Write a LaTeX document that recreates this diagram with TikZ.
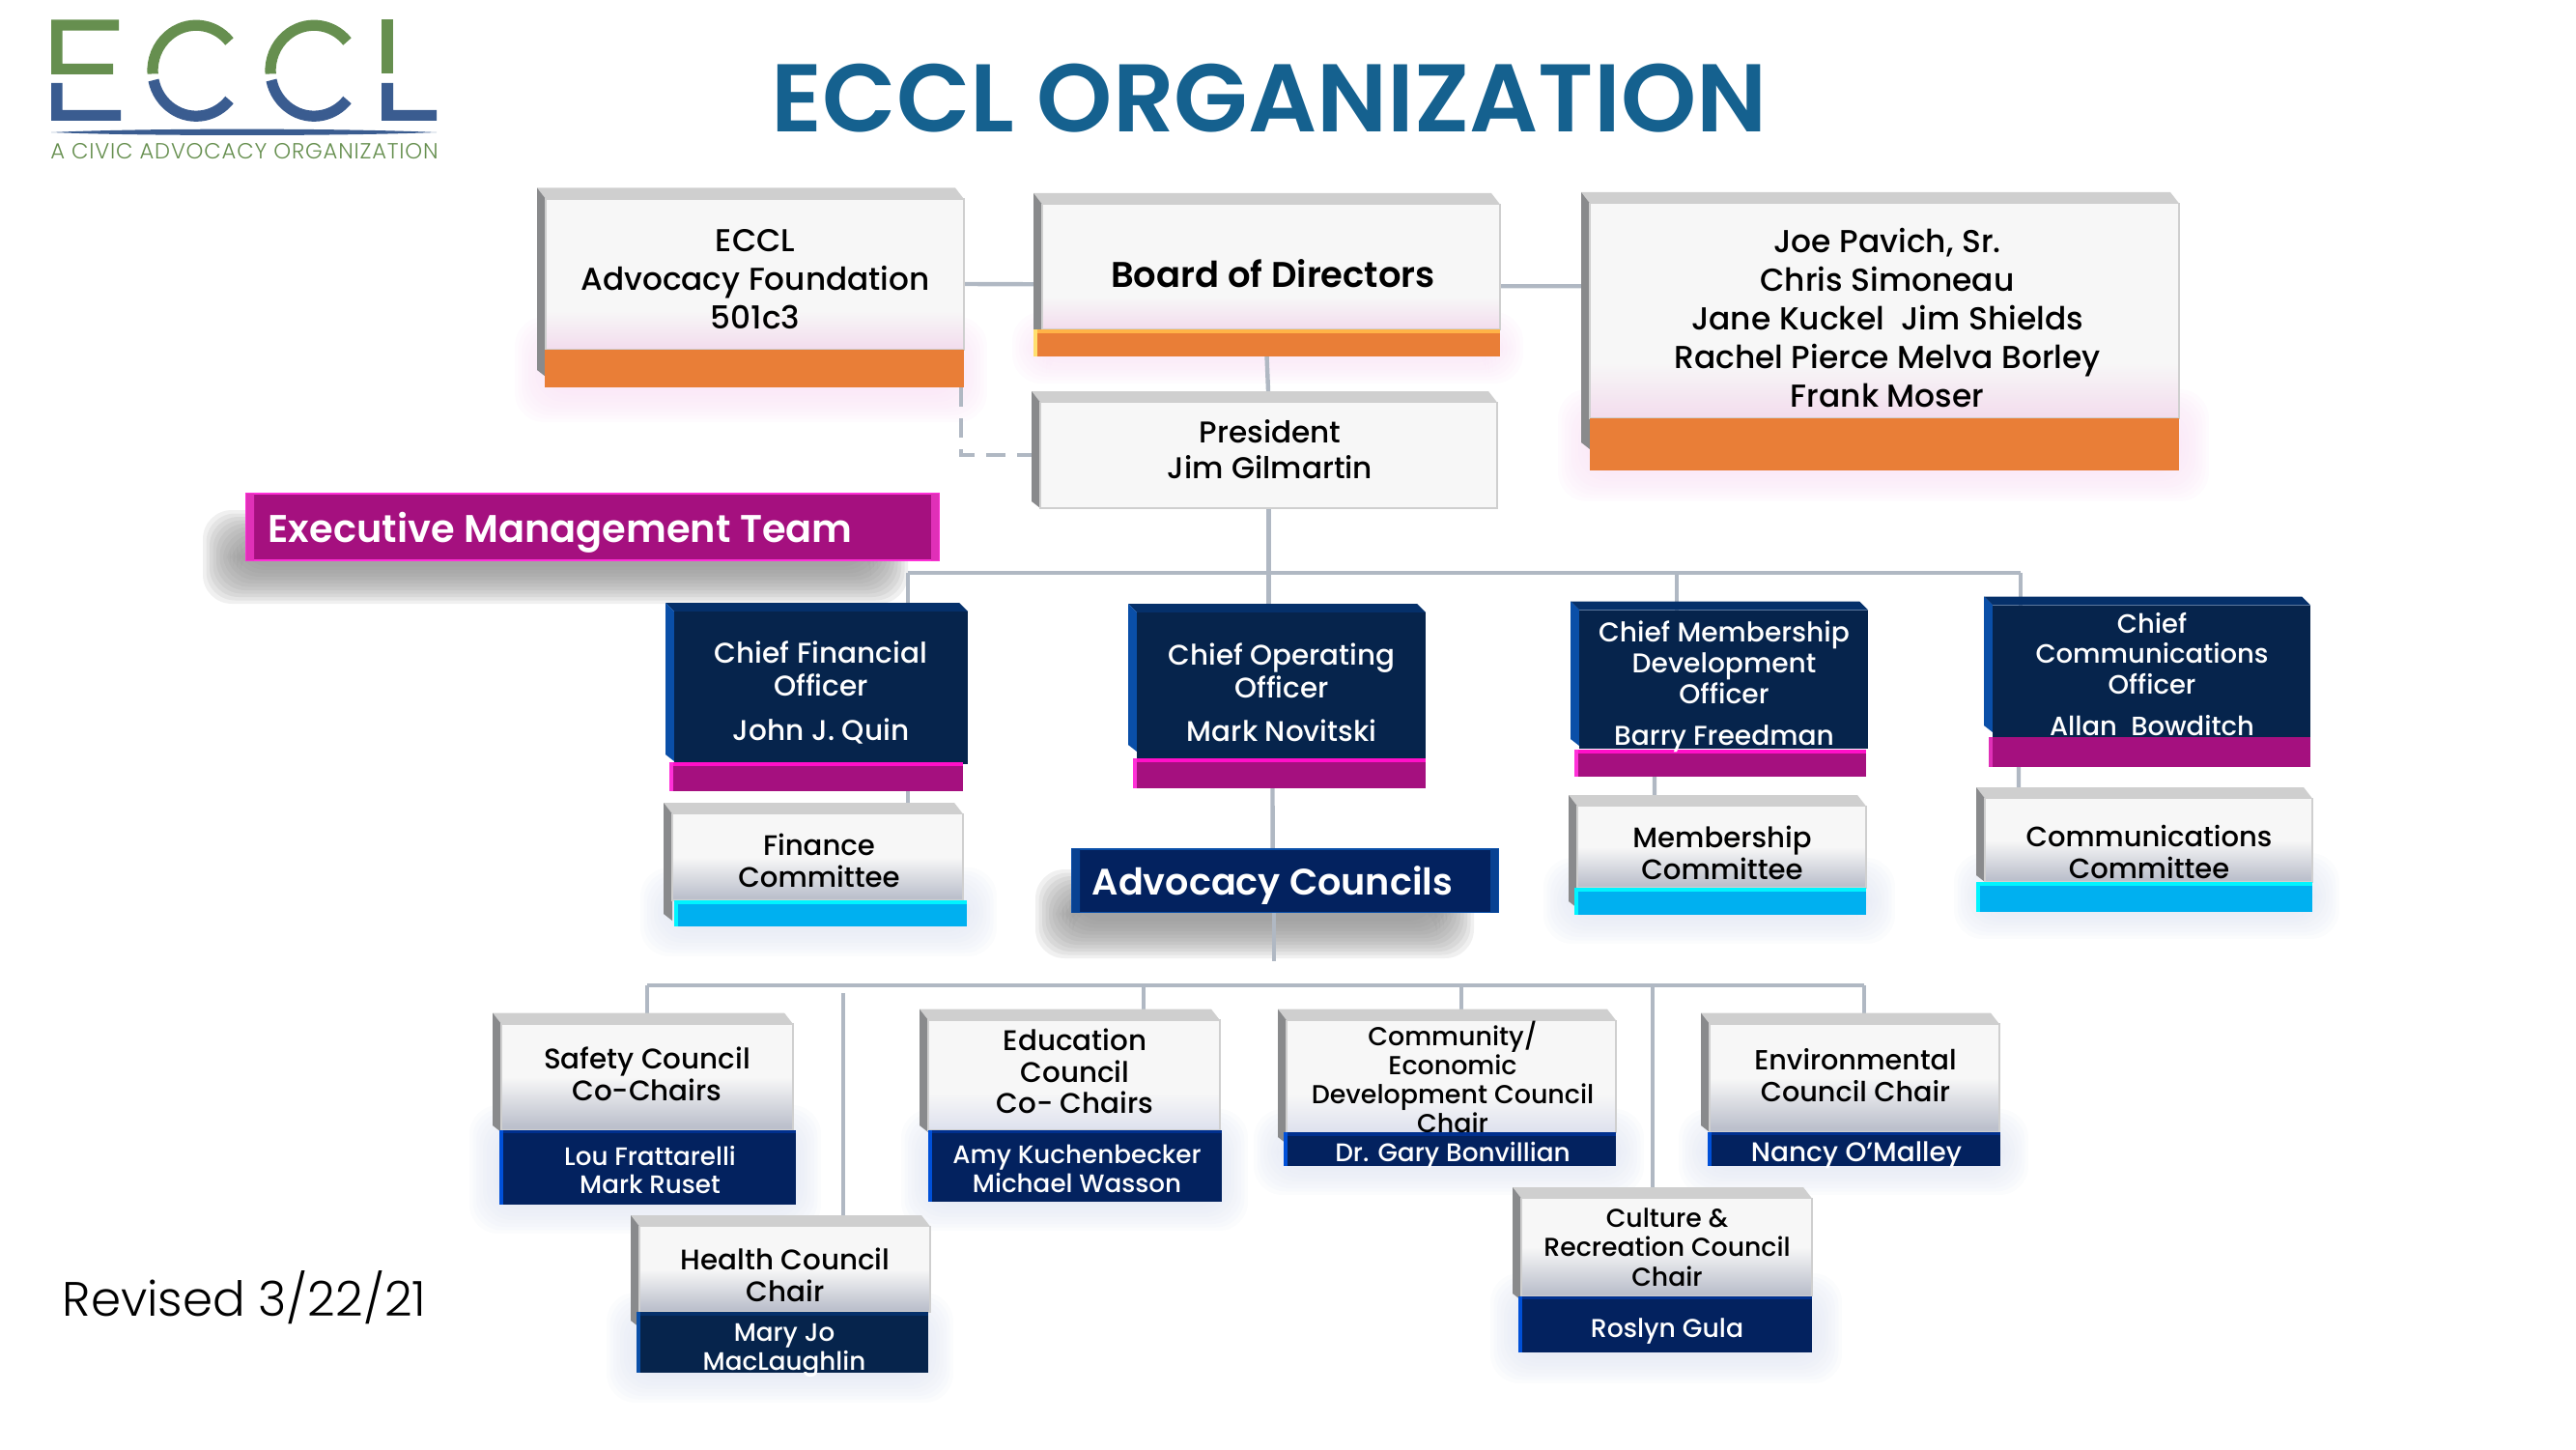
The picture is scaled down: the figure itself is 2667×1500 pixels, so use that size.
\documentclass[tikz,border=0pt]{standalone}
\usepackage{fontspec}
\setmainfont{Poppins Medium}
\newfontfamily\thinfont{Poppins Light}
\newfontfamily\tagfont{Poppins Light}[LetterSpace=3.5]
\newfontfamily\strongfont{Poppins SemiBold}
\usetikzlibrary{positioning}

\definecolor{titleblue}{HTML}{15618F}
\definecolor{logogreen}{HTML}{668F4F}
\definecolor{logoblue}{HTML}{3A5C90}
\definecolor{wiregray}{HTML}{B0B8C3}
\definecolor{facewhite}{HTML}{F7F7F7}
\definecolor{facepink}{HTML}{F3DEEE}
\definecolor{facegray}{HTML}{BCC0CC}
\definecolor{facepale}{HTML}{DFE2EE}
\definecolor{lighttop}{HTML}{CFCFCF}
\definecolor{lightleft}{HTML}{898A8C}
\definecolor{darktop}{HTML}{05306A}
\definecolor{darkleft}{HTML}{0A4FA8}
\definecolor{darkface}{HTML}{06244C}
\definecolor{barorange}{HTML}{E97E37}
\definecolor{barorangetop}{HTML}{E97E37}
\definecolor{barorangeside}{HTML}{E97E37}
\definecolor{barlit}{HTML}{E97E37}
\definecolor{barlittop}{HTML}{FFB347}
\definecolor{barlitside}{HTML}{FFE070}
\definecolor{barmagenta}{HTML}{A5107F}
\definecolor{barmagentatop}{HTML}{FF10C8}
\definecolor{barmagentaside}{HTML}{FF30D8}
\definecolor{barmagflat}{HTML}{A5107F}
\definecolor{barmagflattop}{HTML}{A5107F}
\definecolor{barmagflatside}{HTML}{E030B8}
\definecolor{barcyan}{HTML}{00B0F0}
\definecolor{barcyantop}{HTML}{00F4FF}
\definecolor{barcyanside}{HTML}{00F4FF}
\definecolor{barnavy}{HTML}{03225F}
\definecolor{barnavytop}{HTML}{00308F}
\definecolor{barnavyside}{HTML}{0050D8}
\definecolor{bardeep}{HTML}{06244C}
\definecolor{bardeeptop}{HTML}{05306A}
\definecolor{bardeepside}{HTML}{0A4FA8}
\definecolor{glowpink}{HTML}{F9E2F5}
\definecolor{glowblue}{HTML}{E0E5F2}
\definecolor{shadowgray}{HTML}{8E8E8E}

\pgfdeclareverticalshading{pinkshade}{100bp}{color(0bp)=(facepink); color(26bp)=(facepink); color(38bp)=(facewhite); color(100bp)=(facewhite)}
\pgfdeclareverticalshading{grayshade}{100bp}{color(0bp)=(facegray); color(27bp)=(facegray); color(50bp)=(facewhite); color(100bp)=(facewhite)}
\pgfdeclareverticalshading{paleshade}{100bp}{color(0bp)=(facepale); color(26bp)=(facepale); color(42bp)=(facewhite); color(100bp)=(facewhite)}

\pgfdeclarelayer{glow}
\pgfdeclarelayer{wires}
\pgfsetlayers{glow,wires,main}

\def\lightbh{11.5}
\def\darkbh{9}

% [kind]{face}{name}{outer left}{outer top}{right}{bevel end}{body end}
\newcommand{\orgcard}[8][light]{
	\edef\bh{\csname #1bh\endcsname}
	\fill[#1top] (#4,#5) -- (#6-9,#5) -- (#6,#5+\bh) -- (#4+9,#5+\bh) -- cycle;
	\fill[#1left] (#4,#5) -- (#4+9,#5+\bh) -- (#4+9,#7+7) -- (#4,#7) -- cycle;
	\node[cardface, #2, anchor=north west, minimum width={(#6-#4-9)*0.01cm}, minimum height={(#8-#5-\bh)*0.01cm}] (#3) at (#4+9,#5+\bh) {};
}
% {kind}{name}{left}{top}{right}{bottom}
\newcommand{\cardbar}[6]{
	\node[cardface, fill=bar#1, anchor=north west, minimum width={(#5-#3)*0.01cm}, minimum height={(#6-#4)*0.01cm}] (#2) at (#3,#4) {};
	\fill[bar#1top] (#3,#4) rectangle (#5,#4+3.5);
	\fill[bar#1side] (#3,#4) rectangle (#3+3.5,#6);
}
% [colour]{left}{top}{right}{bottom}
\newcommand{\softglow}[5][glowblue]{
	\begin{pgfonlayer}{glow}
		\foreach \g in {0,...,11}
			\fill[#1, opacity=0.13, rounded corners=0.3cm] (#2+\g*3.5,#3+\g*3.5) rectangle (#4-\g*3.5,#5-\g*3.5);
	\end{pgfonlayer}
}

\begin{document}
\begin{tikzpicture}[
	x=0.01cm,
	y=-0.01cm,
	cardface/.style={
		rectangle,
		inner sep=0pt,
		outer sep=0pt
	},
	whiteface/.style={
		fill=facewhite,
		draw=lighttop,
		line width=0.4pt
	},
	pinkface/.style={
		shading=pinkshade,
		draw=lighttop,
		line width=0.4pt
	},
	grayface/.style={
		shading=grayshade,
		draw=lighttop,
		line width=0.4pt
	},
	paleface/.style={
		shading=paleshade,
		draw=lighttop,
		line width=0.4pt
	},
	darkfill/.style={
		fill=darkface
	},
	lighttop/.style={fill=lighttop},
	lightleft/.style={fill=lightleft},
	darktop/.style={fill=darktop},
	darkleft/.style={fill=darkleft},
	wire/.style={
		draw=wiregray,
		line width=1.25pt
	},
	txt/.style 2 args={
		font=\fontsize{#1}{#2}\selectfont,
		align=center,
		inner sep=0pt
	},
	bannertext/.style={
		text=white,
		anchor=west,
		inner sep=0pt
	}
]
\useasboundingbox (0,0) rectangle (2667,1500);

% Logo
\fill[logogreen] (53,20.5) -- (123,20.5) -- (123,31.6) -- (64.5,31.6) -- (64.5,66) -- (117,66) -- (117,77) -- (53,77) -- cycle;
\fill[logoblue] (53,86) -- (64.5,86) -- (64.5,114) -- (125,114) -- (125,125) -- (53,125) -- cycle;
\foreach \cx in {203,325} {
	\draw[logogreen, line width=3.2pt] (\cx+34.5,43) arc[start angle=-40, end angle=-184, x radius=45, y radius=47];
	\draw[logoblue, line width=3.2pt] (\cx-44,83) arc[start angle=168, end angle=40, x radius=45, y radius=47];
}
\fill[logogreen] (395,20.5) rectangle (407,76);
\fill[logoblue] (395,86) -- (407,86) -- (407,114) -- (452,114) -- (452,125) -- (395,125) -- cycle;
\fill[logoblue] (53,137) .. controls (150,132.5) and (350,132.5) .. (452,137) .. controls (350,141) and (150,141) .. (53,137);
\node[inner sep=0pt, text=logogreen, font=\tagfont\fontsize{6.45}{7}\selectfont] (tagline) at (253,156.5) {A CIVIC ADVOCACY ORGANIZATION};

% Title
\node[inner sep=0pt, text=titleblue, font=\strongfont\fontsize{28.3}{32}\selectfont] (maintitle) at (1314,102) {ECCL ORGANIZATION};

% Glows and shadows
\softglow[glowpink]{533}{328}{1022}{437}
\softglow[glowpink]{1048}{323}{1577}{397}
\softglow[glowpink]{1613}{403}{2287}{519}
\softglow{663}{898}{1032}{990}
\softglow{1598}{888}{1962}{977}
\softglow{2023}{883}{2422}{972}
\softglow{486}{1144}{850}{1277}
\softglow{933}{1148}{1292}{1274}
\softglow{628}{1338}{987}{1452}
\softglow{1298}{1148}{1702}{1237}
\softglow{1738}{1148}{2100}{1237}
\softglow{1543}{1318}{1907}{1432}
\softglow[shadowgray]{210}{528}{940}{625}
\softglow[shadowgray]{1072}{900}{1526}{992}

% Top row
\orgcard{pinkface}{foundation}{556}{194.5}{998}{383}{362}
\cardbar{orange}{foundationbar}{564}{362}{998}{401}
\orgcard{pinkface}{board}{1070}{200}{1553}{341}{341}
\cardbar{lit}{boardbar}{1070}{341}{1553}{368.5}
\orgcard{pinkface}{trustees}{1637}{199}{2256}{458}{433}
\cardbar{orange}{trusteesbar}{1646}{433}{2256}{487}
\orgcard{whiteface}{president}{1068}{405}{1550}{519}{526}

% Officers
\orgcard[dark]{darkfill}{cfo}{689}{624}{1002}{781}{791}
\cardbar{magenta}{cfobar}{693}{789}{997}{819}
\orgcard[dark]{darkfill}{coo}{1168}{625}{1476}{771}{785}
\cardbar{magenta}{coobar}{1173}{785}{1476}{816}
\orgcard[dark]{darkfill}{cmdo}{1626}{622.5}{1934}{765}{775}
\cardbar{magenta}{cmdobar}{1630}{776}{1932}{804}
\orgcard[dark]{darkfill}{cco}{2054}{617.5}{2392}{751}{763}
\cardbar{magflat}{ccobar}{2059}{763}{2392}{793.5}

% Committees
\orgcard{grayface}{finance}{687}{831}{997}{946}{932}
\cardbar{cyan}{financebar}{698}{932}{1001}{959}
\orgcard{grayface}{membership}{1624}{823}{1932}{933}{919}
\cardbar{cyan}{membershipbar}{1630}{919}{1932}{946.5}
\orgcard{grayface}{communications}{2046}{815}{2394}{906}{913}
\cardbar{cyan}{communicationsbar}{2046}{913}{2394}{944}

% Councils
\orgcard{grayface}{safety}{510}{1048.5}{821}{1165}{1170}
\cardbar{navy}{safetybar}{517}{1169.6}{824}{1247}
\orgcard{grayface}{health}{653}{1258}{963}{1367}{1358}
\cardbar{deep}{healthbar}{659}{1358}{961}{1421}
\orgcard{paleface}{education}{952}{1044.6}{1263}{1165}{1170}
\cardbar{navy}{educationbar}{961}{1169.6}{1265}{1244}
\orgcard{paleface}{community}{1323}{1044.7}{1673}{1177}{1172.3}
\cardbar{navy}{communitybar}{1329}{1172.3}{1673}{1206.5}
\orgcard{grayface}{environmental}{1761}{1048.6}{2070}{1165}{1171.7}
\cardbar{navy}{environmentalbar}{1768}{1171.7}{2071}{1207}
\orgcard{grayface}{culture}{1566}{1229}{1876}{1339}{1341.5}
\cardbar{navy}{culturebar}{1572}{1341.5}{1876}{1400}

% Banners
\node[cardface, fill=barmagenta, draw=barmagentaside, line width=0.5pt, anchor=north west, minimum width=7.17cm, minimum height=0.69cm] (execteam) at (255,511) {};
\fill[barmagflatside] (255,511) rectangle (263,580) (964,511) rectangle (972,580);
\node[bannertext, font=\strongfont\fontsize{11.35}{14}\selectfont] (execlabel) at (277,551) {Executive Management Team};
\node[cardface, fill=barnavy, draw=darkleft, line width=0.5pt, anchor=north west, minimum width=4.41cm, minimum height=0.655cm] (advocacy) at (1110,879) {};
\fill[darkleft!70!barnavy] (1110,879) rectangle (1118,944.5) (1543,879) rectangle (1551,944.5);
\node[bannertext, font=\strongfont\fontsize{10.85}{14}\selectfont] (advocacylabel) at (1130,917) {Advocacy Councils};

% Texts on the light cards
\node[txt={9.3}{11.4}] (foundationtext) at (782,289) {ECCL\\Advocacy Foundation\\501c3};
\node[txt={10.5}{12}, font=\strongfont\fontsize{10.5}{12}\selectfont] (boardtext) at (1318,283) {Board of Directors};
\node[txt={9.35}{11.4}] (trusteestext) at (1954,329) {Joe Pavich, Sr.\\Chris Simoneau\\Jane Kuckel\ \ Jim Shields\\Rachel Pierce Melva Borley\\Frank Moser};
\node[txt={8.85}{10.6}] (presidenttext) at (1315,465) {President\\Jim Gilmartin};
\node[txt={8.3}{9.4}] (financetext) at (848,891) {Finance\\Committee};
\node[txt={8.3}{9.4}] (membershiptext) at (1783,883) {Membership\\Committee};
\node[txt={8.25}{9.4}] (communicationstext) at (2225,882) {Communications\\Committee};
\node[txt={8.35}{9.3}] (safetytext) at (670,1112) {Safety Council\\Co-Chairs};
\node[txt={8.35}{9.3}] (healthtext) at (813,1320) {Health Council\\Chair};
\node[txt={8.35}{9.3}] (educationtext) at (1113,1109) {Education\\Council\\Co- Chairs};
\node[txt={7.65}{8.6}] (communitytext) at (1504,1115) {Community/\\Economic\\Development Council\\Chair};
\node[txt={8.15}{9.3}] (environmentaltext) at (1921,1113) {Environmental\\Council Chair};
\node[txt={7.6}{8.6}] (culturetext) at (1726,1291) {Culture \&\\Recreation Council\\Chair};

% Texts on the dark cards
\begin{scope}[every node/.append style={text=white}]
	\node[txt={8.4}{9.6}] (cfotext) at (850,717) {Chief Financial\\Officer\\[3.4pt]John J. Quin};
	\node[txt={8.35}{9.6}] (cootext) at (1327,717) {Chief Operating\\Officer\\[3.4pt]Mark Novitski};
	\node[txt={8}{9}] (cmdotext) at (1785,711) {Chief Membership\\Development\\Officer\\[3.4pt]Barry Freedman};
	\node[txt={7.8}{9}] (ccotext) at (2228,698) {Chief\\Communications\\Officer\\[3.4pt]Allan\ \ Bowditch};
	\node[txt={7.45}{8.4}] (safetynames) at (673,1211) {Lou Frattarelli\\Mark Ruset};
	\node[txt={7.45}{8.4}] (healthnames) at (812,1398) {Mary Jo\\MacLaughlin};
	\node[txt={7.45}{8.4}] (educationnames) at (1115,1210) {Amy Kuchenbecker\\Michael Wasson};
	\node[txt={7.5}{8.6}] (communitynames) at (1504,1196) {Dr. Gary Bonvillian};
	\node[txt={7.95}{8.6}] (environmentalnames) at (1922,1196) {Nancy O'Malley};
	\node[txt={7.6}{8.6}] (culturenames) at (1726,1378) {Roslyn Gula};
\end{scope}

% Revised
\node[inner sep=0pt, font=\thinfont\fontsize{14.2}{16}\selectfont, anchor=base west] (revised) at (64,1362) {Revised 3/22/21};

% Bus points
\coordinate (cfotap) at (940,593);
\coordinate (cmdotap) at (1736,593);
\coordinate (ccotap) at (2092,593);
\coordinate (safetytap) at (670,1020);
\coordinate (healthtap) at (873,1028);
\coordinate (educationtap) at (1184,1020);
\coordinate (communitytap) at (1513,1020);
\coordinate (culturetap) at (1711,1018);
\coordinate (environmentaltap) at (1930,1020);
\coordinate (councilstub) at (1319,995);

% Connectors
\begin{pgfonlayer}{wires}
	\draw[wire] ([yshift=-0.10cm]foundation.east) -- ([yshift=-0.18cm]board.west);
	\draw[wire] ([yshift=-0.20cm]board.east) -- ([yshift=0.255cm]trustees.west);
	\draw[wire] (boardbar.south) -- (president.north);
	\draw[wire, dash pattern=on 0.2cm off 0.12cm] ([xshift=-0.03cm]foundationbar.south east) |- (president.west);
	\draw[wire] (president.south) -- (president.south |- coo.north);
	\draw[wire] (cfotap) -- (ccotap);
	\draw[wire] (cfotap) -- (cfotap |- cfo.north);
	\draw[wire] (cmdotap) -- (cmdotap |- cmdo.north);
	\draw[wire] (ccotap) -- (ccotap |- cco.north);
	\draw[wire] (cfotap |- cfobar.south) -- (cfotap |- finance.north);
	\draw[wire] ([xshift=-0.68cm]cmdobar.south) -- ([xshift=-0.695cm]membership.north);
	\draw[wire] ([xshift=-1.355cm]ccobar.south) -- ([xshift=-1.345cm]communications.north);
	\draw[wire] ([xshift=-0.07cm]coobar.south) -- ([xshift=-0.13cm]advocacy.north);
	\draw[wire] (councilstub |- advocacy.south) -- (councilstub);
	\draw[wire] (safetytap) -- (environmentaltap);
	\draw[wire] (safetytap) -- (safetytap |- safety.north);
	\draw[wire] (healthtap) -- (healthtap |- health.north);
	\draw[wire] (educationtap) -- (educationtap |- education.north);
	\draw[wire] (communitytap) -- (communitytap |- community.north);
	\draw[wire] (culturetap) -- (culturetap |- culture.north);
	\draw[wire] (environmentaltap) -- (environmentaltap |- environmental.north);
\end{pgfonlayer}
\end{tikzpicture}
\end{document}
